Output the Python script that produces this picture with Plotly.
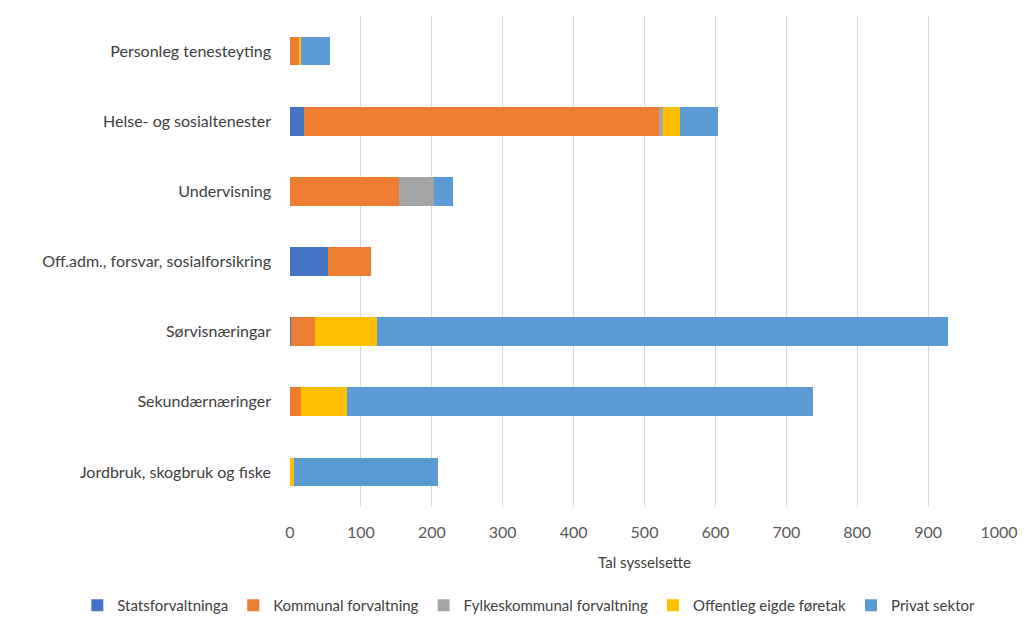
import plotly.graph_objects as go

categories = ["Personleg tenesteyting", "Helse- og sosialtenester", "Undervisning",
              "Off.adm., forsvar, sosialforsikring", "Sørvisnæringar",
              "Sekundærnæringer", "Jordbruk, skogbruk og fiske"]

statsforvaltninga = [0, 20, 0, 54, 1, 0, 0]
kommunal = [14, 500, 154, 60, 34, 15, 0]
fylkeskommunal = [0, 6, 49, 0, 0, 0, 0]
offentleg = [1, 24, 0, 0, 88, 65, 5]
privat = [41, 53, 27, 0, 805, 658, 204]

series = [
    ("Statsforvaltninga", statsforvaltninga, "#4472C4"),
    ("Kommunal forvaltning", kommunal, "#ED7D31"),
    ("Fylkeskommunal forvaltning", fylkeskommunal, "#A5A5A5"),
    ("Offentleg eigde føretak", offentleg, "#FFC000"),
    ("Privat sektor", privat, "#5B9BD5"),
]

fig = go.Figure()
for name, vals, col in series:
    fig.add_trace(go.Bar(y=categories, x=vals, name=name, orientation="h",
                         marker=dict(color=col, line=dict(width=0))))

fig.update_layout(
    barmode="stack",
    bargap=0.59,
    width=1024, height=622,
    paper_bgcolor="white", plot_bgcolor="white",
    margin=dict(l=282, r=33, t=8, b=117),
    font=dict(family="Lato, Open Sans, sans-serif", size=15, color="#404040"),
    xaxis=dict(range=[0, 1000], dtick=100, showgrid=True, gridcolor="#D9D9D9",
               gridwidth=1, zeroline=False, showline=False, automargin=False,
               tickfont=dict(size=16, color="#595959"),
               title=dict(text="Tal sysselsette", font=dict(size=15, color="#404040"), standoff=17),
               ticks="", ticklabelstandoff=14),
    yaxis=dict(autorange="reversed", showgrid=False, ticks="", automargin=False,
               tickfont=dict(size=16, color="#404040"), showline=False,
               ticklabelstandoff=18),
    legend=dict(orientation="h", x=-0.30, xanchor="left",
                y=-0.234, yanchor="bottom",
                font=dict(size=15, color="#404040"), traceorder="normal",
                itemwidth=30, tracegroupgap=0),
)

fig.write_html("out.html")
